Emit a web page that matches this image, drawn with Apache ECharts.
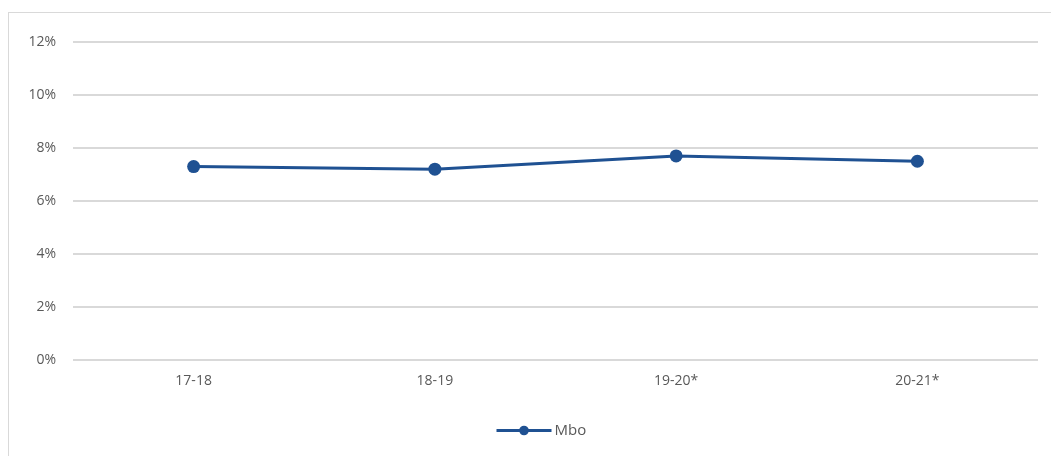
<!DOCTYPE html>
<html><head><meta charset="utf-8">
<script src="https://cdn.jsdelivr.net/npm/echarts@6/dist/echarts.min.js"></script>
<style>
html,body{margin:0;padding:0;background:#fff;}
#frame{position:absolute;left:8px;top:12px;width:1050px;height:450px;border:1px solid #d9d9d9;box-sizing:border-box;}
#c{position:absolute;left:0;top:0;width:1051px;height:456px;}
</style></head>
<body><div id="frame"></div><div id="c"></div>
<script>
const categories = ['17-18', '18-19', '19-20*', '20-21*'];
const mboValues = [7.3, 7.2, 7.7, 7.5];
const seriesName = 'Mbo';

const chart = echarts.init(document.getElementById('c'));
const font = 'Open Sans';
chart.setOption({
  animation: false,
  grid: {left: 73, right: 13, top: 42, bottom: 96, containLabel: false},
  legend: {
    bottom: 13, left: 490, data: [seriesName],
    itemWidth: 55, itemHeight: 12, itemGap: 4,
    lineStyle: {width: 3},
    textStyle: {color: '#595959', fontSize: 15, fontFamily: font, padding: [0, 0, 0, -2]}
  },
  xAxis: {
    type: 'category', data: categories, boundaryGap: true,
    axisLine: {show: false}, axisTick: {show: false},
    axisLabel: {color: '#595959', fontSize: 14, fontFamily: font, margin: 14}
  },
  yAxis: {
    type: 'value', min: 0, max: 12, interval: 2,
    axisLine: {show: false}, axisTick: {show: false},
    axisLabel: {color: '#595959', fontSize: 14, fontFamily: font, margin: 17, formatter: v => v + '%'},
    splitLine: {lineStyle: {color: '#d9d9d9', width: 2}}
  },
  series: [{
    name: seriesName, type: 'line', data: mboValues,
    symbol: 'circle', symbolSize: 13,
    lineStyle: {color: '#1f5192', width: 3},
    itemStyle: {color: '#1f5192'}
  }]
});
</script></body></html>
